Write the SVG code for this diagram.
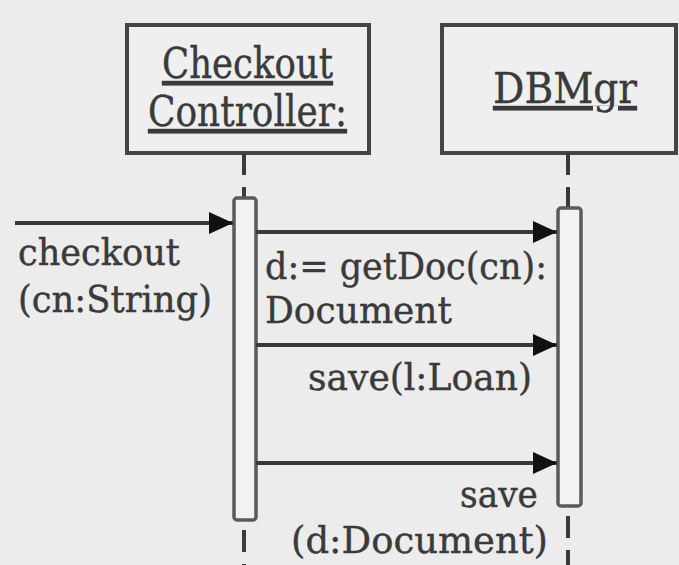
<svg xmlns="http://www.w3.org/2000/svg" width="679" height="565" viewBox="0 0 679 565">
  <style>
    .box { fill: #efefef; stroke: #454545; stroke-width: 4; }
    .act { fill: #f2f2f2; stroke: #5a5a5a; stroke-width: 3.5; }
    .life { stroke: #3a3a3a; stroke-width: 4; stroke-dasharray: 22 12; fill: none; }
    .msg { stroke: #3a3a3a; stroke-width: 4; fill: none; marker-end: url(#arrow); }
    .t { font-size: 37px; fill: #3a3a3a; stroke: #3a3a3a; stroke-width: 0.4; }
    .name { text-decoration: underline; font-size: 43px; }
  </style>
  <defs>
    <marker id="arrow" viewBox="0 0 10 10" refX="10" refY="5" markerWidth="6" markerHeight="5.5" markerUnits="strokeWidth" orient="auto" preserveAspectRatio="none">
      <path d="M0,0 L10,5 L0,10 z" fill="#111"/>
    </marker>
  </defs>
  <rect width="679" height="565" fill="#ececec"/>

  <g id="checkout-controller" font-family="DejaVu Serif, Liberation Serif, serif">
    <rect class="box" x="127" y="25" width="242" height="128"/>
    <text class="t name" x="162" y="78" textLength="171" lengthAdjust="spacingAndGlyphs">Checkout</text>
    <text class="t name" x="148" y="126" textLength="199" lengthAdjust="spacingAndGlyphs">Controller:</text>
    <line class="life" x1="244" y1="153" x2="244" y2="198"/>
    <rect class="act" x="234" y="198" width="22" height="322" rx="3"/>
    <line class="life" x1="244" y1="530" x2="244" y2="565"/>
  </g>

  <g id="dbmgr" font-family="DejaVu Serif, Liberation Serif, serif">
    <rect class="box" x="442" y="25" width="234" height="128"/>
    <text class="t name" x="493" y="103" textLength="144" lengthAdjust="spacingAndGlyphs">DBMgr</text>
    <line class="life" x1="568" y1="153" x2="568" y2="208"/>
    <rect class="act" x="558" y="208" width="23" height="298" rx="3"/>
    <line class="life" x1="568" y1="516" x2="568" y2="565"/>
  </g>

  <g id="connectors">
    <line class="msg" x1="15" y1="223" x2="233" y2="223"/>
    <line class="msg" x1="256" y1="232" x2="557" y2="232"/>
    <line class="msg" x1="256" y1="345" x2="557" y2="345"/>
    <line class="msg" x1="256" y1="463" x2="557" y2="463"/>
  </g>

  <g id="labels" font-family="DejaVu Serif, Liberation Serif, serif">
    <text class="t" x="18" y="265" textLength="162" lengthAdjust="spacingAndGlyphs">checkout</text>
    <text class="t" x="18" y="312" textLength="194" lengthAdjust="spacingAndGlyphs">(cn:String)</text>
    <text class="t" x="265" y="279" textLength="282" lengthAdjust="spacingAndGlyphs">d:= getDoc(cn):</text>
    <text class="t" x="265" y="323" textLength="187" lengthAdjust="spacingAndGlyphs">Document</text>
    <text class="t" x="308" y="390" textLength="224" lengthAdjust="spacingAndGlyphs">save(l:Loan)</text>
    <text class="t" x="460" y="507" textLength="78" lengthAdjust="spacingAndGlyphs">save</text>
    <text class="t" x="291" y="553" textLength="257" lengthAdjust="spacingAndGlyphs">(d:Document)</text>
  </g>
</svg>
